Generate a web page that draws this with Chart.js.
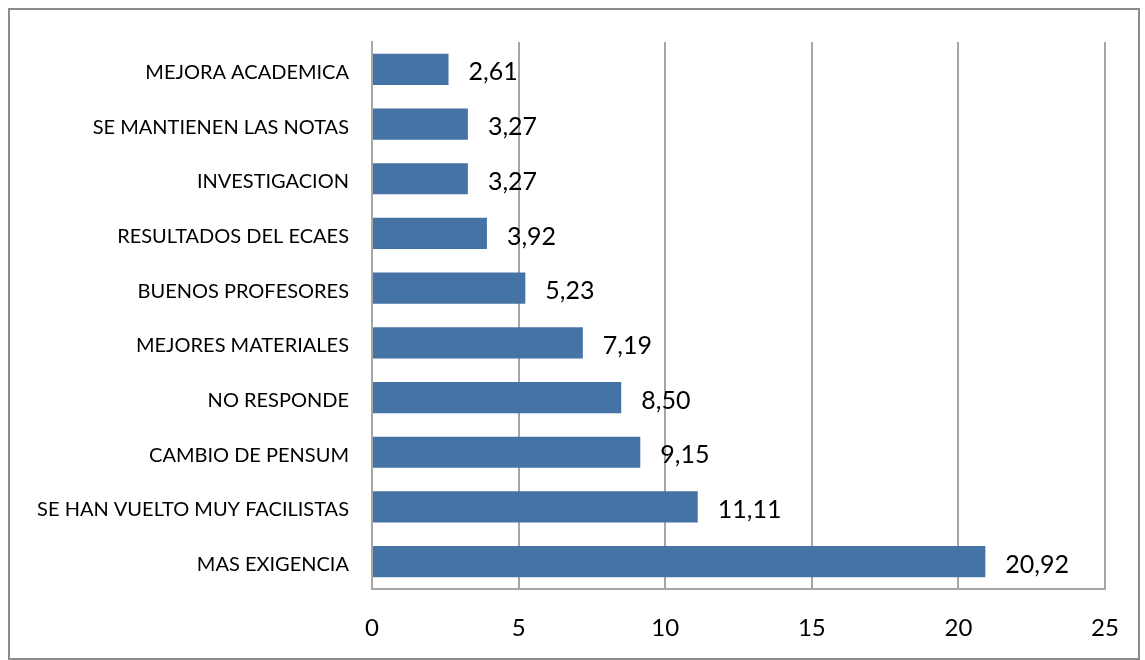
<!DOCTYPE html>
<html>
<head>
<meta charset="utf-8">
<script src="https://cdn.jsdelivr.net/npm/chart.js"></script>
<style>
    html, body { margin: 0; padding: 0; background: #fff; }
    #wrap { position: relative; width: 1145px; height: 660px; }
    #frame {
        position: absolute; left: 8px; top: 8px; width: 1128px; height: 648px;
        border: 2px solid #8c8c8c;
    }
    canvas { position: absolute; left: 0; top: 0; }
</style>
</head>
<body>
<div id="wrap">
    <div id="frame"></div>
    <canvas id="chart" width="1145" height="660"></canvas>
</div>
<script>
// datos del grafico
var categorias = [
    'MEJORA ACADEMICA',
    'SE MANTIENEN LAS NOTAS',
    'INVESTIGACION',
    'RESULTADOS DEL ECAES',
    'BUENOS PROFESORES',
    'MEJORES MATERIALES',
    'NO RESPONDE',
    'CAMBIO DE PENSUM',
    'SE HAN VUELTO MUY FACILISTAS',
    'MAS EXIGENCIA'
];
var valores = [2.61, 3.27, 3.27, 3.92, 5.23, 7.19, 8.50, 9.15, 11.11, 20.92];
var ejeMin = 0;
var ejeMax = 25;
var ejePaso = 5;

var fuente = "Lato, 'Open Sans', sans-serif";
var colorBarra = '#4673a5';
var colorLinea = '#a6a6a6';

// etiquetas de valor al final de cada barra
var etiquetasPlugin = {
    id: 'etiquetas',
    afterDatasetsDraw: function(chart) {
        var ctx = chart.ctx;
        var meta = chart.getDatasetMeta(0);
        ctx.save();
        ctx.font = '25px ' + fuente;
        ctx.fillStyle = '#000';
        ctx.textAlign = 'left';
        ctx.textBaseline = 'middle';
        for (var i = 0; i < meta.data.length; i++) {
            var bar = meta.data[i];
            var txt = valores[i].toFixed(2).replace('.', ',');
            ctx.fillText(txt, bar.x + 20, bar.y + 3);
        }
        ctx.restore();
    }
};

new Chart(document.getElementById('chart'), {
    type: 'bar',
    data: {
        labels: categorias,
        datasets: [{
            data: valores,
            backgroundColor: colorBarra,
            borderWidth: 0,
            categoryPercentage: 1,
            barPercentage: 0.57
        }]
    },
    options: {
        indexAxis: 'y',
        responsive: false,
        animation: false,
        layout: {
            padding: { left: 0, top: 42, right: 40, bottom: 0 }
        },
        plugins: {
            legend: { display: false },
            tooltip: { enabled: false }
        },
        scales: {
            x: {
                min: ejeMin,
                max: ejeMax,
                afterFit: function(scale) { scale.height = 71; },
                ticks: {
                    stepSize: ejePaso,
                    padding: 25,
                    color: '#000',
                    font: { family: fuente, size: 24 }
                },
                grid: {
                    color: colorLinea,
                    lineWidth: 2,
                    drawTicks: false
                },
                border: { color: colorLinea, width: 2 }
            },
            y: {
                afterFit: function(scale) { scale.width = 372; },
                ticks: {
                    padding: 23,
                    labelOffset: 3,
                    color: '#000',
                    font: { family: fuente, size: 20 }
                },
                grid: { display: false, drawTicks: false },
                border: { color: colorLinea, width: 2 }
            }
        }
    },
    plugins: [etiquetasPlugin]
});
</script>
</body>
</html>
